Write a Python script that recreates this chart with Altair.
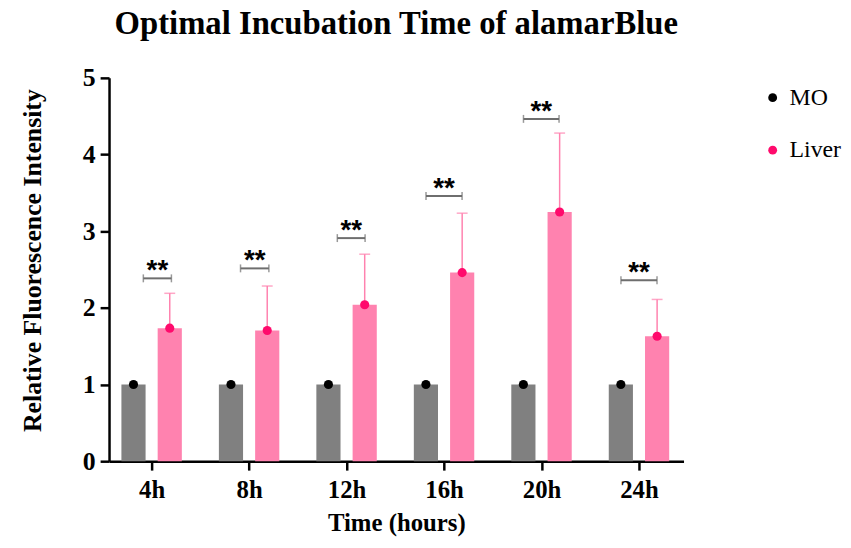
import json
import altair as alt
import pandas as pd

# ---- data ----
hours = ["4h", "8h", "12h", "16h", "20h", "24h"]
groups = ["MO", "Liver"]
mo_mean = [1.0, 1.0, 1.0, 1.0, 1.0, 1.0]
liver_mean = [1.735, 1.705, 2.04, 2.46, 3.25, 1.63]
liver_err = [0.455, 0.58, 0.66, 0.775, 1.03, 0.48]
sig_label = ["**", "**", "**", "**", "**", "**"]
sig_y = [2.385, 2.515, 2.91, 3.46, 4.465, 2.36]
sig_left = [-0.085, -0.088, -0.095, -0.185, -0.185, -0.185]
sig_right = [0.203, 0.203, 0.19, 0.185, 0.18, 0.185]

# ---- layout of the grouped bars (category units) ----
BAR_IN, BAR_OUT = 0.062, 0.31
MO_C = -(BAR_IN + BAR_OUT) / 2
LV_C = (BAR_IN + BAR_OUT) / 2

bars = []
for i, h in enumerate(hours):
    bars.append({"hour": h, "group": "MO", "series": "MO", "x": i - BAR_OUT,
                 "x2": i - BAR_IN, "c": i + MO_C, "y": mo_mean[i], "y0": 0})
    bars.append({"hour": h, "group": "Liver", "series": "Liver", "x": i + BAR_IN,
                 "x2": i + BAR_OUT, "c": i + LV_C, "y": liver_mean[i], "y0": 0})
bars_df = pd.DataFrame(bars)

err_df = pd.DataFrame({
    "hour": hours,
    "c": [i + LV_C for i in range(len(hours))],
    "y": liver_mean,
    "top": [m + e for m, e in zip(liver_mean, liver_err)],
})

sig_df = pd.DataFrame({
    "hour": hours,
    "l": [i + a for i, a in enumerate(sig_left)],
    "r": [i + b for i, b in enumerate(sig_right)],
    "m": [i + (a + b) / 2 for i, (a, b) in enumerate(zip(sig_left, sig_right))],
    "y": sig_y,
    "label": sig_label,
})
sig_ends = pd.concat([
    pd.DataFrame({"x": sig_df["l"], "y": sig_df["y"]}),
    pd.DataFrame({"x": sig_df["r"], "y": sig_df["y"]}),
])

SERIF = "Liberation Serif"
label_expr = json.dumps(hours) + "[datum.value]"

xscale = alt.Scale(domain=[-0.437, 5.457], nice=False, zero=False)
yscale = alt.Scale(domain=[0, 5], nice=False)

xaxis = alt.Axis(values=list(range(len(hours))), labelExpr=label_expr,
                 title="Time (hours)", grid=False)
yaxis = alt.Axis(values=[0, 1, 2, 3, 4, 5], format="d",
                 title="Relative Fluorescence Intensity", grid=False, titleY=184)

bar_layer = alt.Chart(bars_df).mark_bar(stroke=None).encode(
    x=alt.X("x:Q", scale=xscale, axis=xaxis),
    x2="x2:Q",
    y=alt.Y("y:Q", scale=yscale, axis=yaxis),
    y2="y0:Q",
    fill=alt.Fill("series:N", scale=alt.Scale(domain=groups, range=["#808080", "#FF82AF"]),
                  legend=None),
)

err_rule = alt.Chart(err_df).mark_rule(color="#FF82AF", strokeWidth=1.5).encode(
    x="c:Q", y="y:Q", y2="top:Q")
err_cap = alt.Chart(err_df).mark_tick(color="#FF82AF", thickness=1.5, size=11,
                                      orient="horizontal").encode(x="c:Q", y="top:Q")

points = alt.Chart(bars_df).mark_point(filled=True, size=85, opacity=1).encode(
    x="c:Q", y="y:Q",
    color=alt.Color("group:N",
                    scale=alt.Scale(domain=groups, range=["#000000", "#FF0A6C"]),
                    legend=alt.Legend(title=None, orient="none", legendX=658, legendY=8,
                                      symbolType="circle", symbolSize=80,
                                      labelFont=SERIF, labelFontSize=24,
                                      labelColor="#000000", labelOffset=5,
                                      rowPadding=29, padding=0)),
)

sig_rule = alt.Chart(sig_df).mark_rule(color="#6E6E6E", strokeWidth=2).encode(
    x="l:Q", x2="r:Q", y="y:Q")
sig_caps = alt.Chart(sig_ends).mark_tick(color="#6E6E6E", thickness=1.5, size=8,
                                         orient="vertical").encode(x="x:Q", y="y:Q")
sig_text = alt.Chart(sig_df).mark_text(font="Liberation Sans", fontWeight="bold",
                                       fontSize=28, baseline="alphabetic", dy=1,
                                       color="#000000").encode(
    x="m:Q", y="y:Q", text="label:N")

chart = alt.layer(bar_layer, err_rule, err_cap, sig_rule, sig_caps, sig_text, points).resolve_scale(
    fill="independent", color="independent"
).properties(
    width=580,
    height=387,
    autosize=alt.AutoSizeParams(type="none"),
    padding={"left": 102, "top": 68, "right": 161, "bottom": 76},
    title=alt.TitleParams("Optimal Incubation Time of alamarBlue", font=SERIF,
                          fontSize=33, fontWeight="bold", color="#000000",
                          anchor="middle", offset=24),
).configure_view(stroke=None).configure_axis(
    domainColor="#000000", domainWidth=2.5, tickColor="#000000", tickWidth=2.5,
    tickSize=9, labelFont=SERIF, labelFontWeight="bold", labelColor="#000000",
    titleFont=SERIF, titleFontWeight="bold", titleColor="#000000",
).configure_axisX(
    labelFontSize=25, titleFontSize=25, labelPadding=8, titlePadding=8,
).configure_axisY(
    labelFontSize=26, titleFontSize=26, labelPadding=5, titlePadding=37,
)

chart.save("out.html", embed_options={"renderer": "svg", "actions": False})
